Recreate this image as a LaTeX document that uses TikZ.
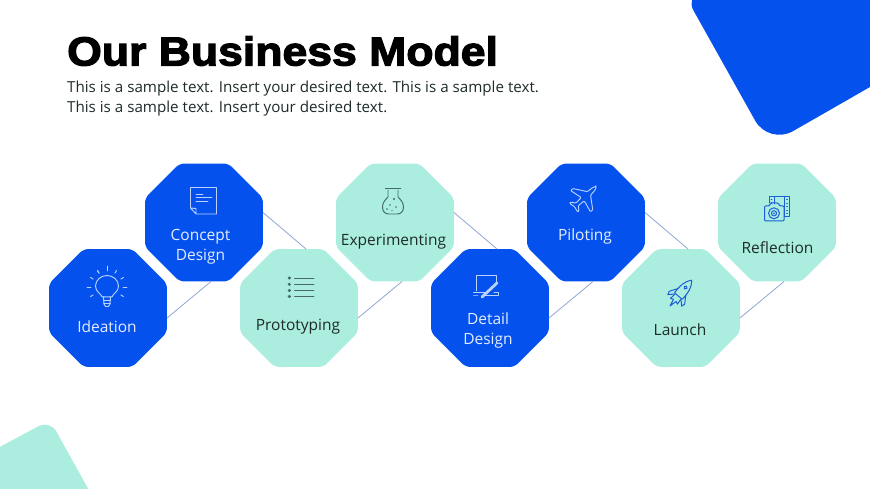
\documentclass[tikz,border=0pt]{standalone}
\usepackage{fontspec}
\setmainfont{Open Sans}
\newfontfamily\titlefont[BoldFeatures={FakeBold=3,FakeStretch=1.1}]{Liberation Sans}
\usetikzlibrary{shapes.geometric}
\definecolor{brandblue}{HTML}{0451EE}
\definecolor{brandteal}{HTML}{ABEDDF}
\definecolor{linkcol}{HTML}{8FA6D6}
\definecolor{darktxt}{HTML}{1E2B2B}
\definecolor{lighttxt}{HTML}{E4EDFF}
\definecolor{iconlight}{HTML}{B9D2FF}
\definecolor{icongrey}{HTML}{456A68}
\definecolor{iconblue}{HTML}{1C5FD6}
\tikzset{
  octa/.style={regular polygon,regular polygon sides=8,minimum size=127.7pt,inner sep=0pt,outer sep=0pt,rounded corners=5pt,draw=none},
  octablue/.style={octa,fill=brandblue},
  octateal/.style={octa,fill=brandteal},
  lab/.style={font=\fontsize{15.5}{20}\selectfont,align=center,inner sep=0pt},
  labblue/.style={lab,text=lighttxt},
  labteal/.style={lab,text=darktxt},
  link/.style={draw=linkcol,line width=0.8pt},
  iconl/.style={draw=iconlight,line width=0.95pt,line cap=round,line join=round},
  icong/.style={draw=icongrey,line width=0.95pt,line cap=round,line join=round},
  iconb/.style={draw=iconblue,line width=1pt,line cap=round,line join=round},
}
\begin{document}
\begin{tikzpicture}[x=1pt,y=-1pt]
\useasboundingbox (0,0) rectangle (870,489);
\begin{scope}
\clip (0,0) rectangle (870,489);
\fill[brandblue] (1000,12.5) [rounded corners=28pt] -- (768.8,145) [rounded corners=14pt] -- (686.5,-2) [sharp corners] -- (790,-62) -- (1000,-62) -- cycle;
\fill[brandteal,rounded corners=13pt] (-30,463) -- (50,420) -- (100,510) -- (-30,510) -- cycle;
\end{scope}

\node[anchor=west,inner sep=0pt,font=\titlefont\bfseries\fontsize{40.5}{44}\selectfont] (title) at (67,51) {Our Business Model};
\node[anchor=north west,inner sep=0pt,align=left,text=darktxt,font=\fontsize{15.17}{20.2}\selectfont] (sub) at (67,81) {This is a sample text. Insert your desired text. This is a sample text.\\This is a sample text. Insert your desired text.};

\node[octablue] (ideation) at (108,308) {};
\node[octablue] (concept) at (204,222.5) {};
\node[octateal] (proto) at (299,308) {};
\node[octateal] (exper) at (395,222.5) {};
\node[octablue] (detail) at (490,308) {};
\node[octablue] (pilot) at (586,222.5) {};
\node[octateal] (launch) at (681,308) {};
\node[octateal] (reflect) at (777,222.5) {};

\draw[link] ([yshift=-10pt]ideation.east) -- ([xshift=7pt]concept.south);
\draw[link] ([yshift=10pt]concept.east) -- ([xshift=7pt]proto.north);
\draw[link] ([yshift=-10pt]proto.east) -- ([xshift=7pt]exper.south);
\draw[link] ([yshift=10pt]exper.east) -- ([xshift=7pt]detail.north);
\draw[link] ([yshift=-10pt]detail.east) -- ([xshift=7pt]pilot.south);
\draw[link] ([yshift=10pt]pilot.east) -- ([xshift=7pt]launch.north);
\draw[link] ([yshift=-10pt]launch.east) -- ([xshift=7pt]reflect.south);

\node[labblue] (t1) at (107,327) {Ideation};
\node[labblue] (t2) at (200.5,246.5) {Concept\\Design};
\node[labteal] (t3) at (298,326.5) {Prototyping};
\node[labteal] (t4) at (393.5,241.5) {Experimenting};
\node[labblue] (t5) at (488,330.5) {Detail\\Design};
\node[labblue] (t6) at (585,236) {Piloting};
\node[labteal] (t7) at (680,329.5) {Launch};
\node[labteal] (t8) at (777.5,247.5) {Reflection};

% bulb
\begin{scope}[shift={(107,287)}]
\draw[iconl] (-5,9.8) .. controls (-6,6.5) and (-11.5,5) .. (-11.5,-1) .. controls (-11.5,-7) and (-6,-11.5) .. (0,-11.5) .. controls (6,-11.5) and (11.5,-7) .. (11.5,-1) .. controls (11.5,5) and (6,6.5) .. (5,9.8) -- cycle;
\draw[iconl] (-3.5,9.8) -- (-3,17) -- (-1.5,19.5) -- (1.5,19.5) -- (3,17) -- (3.5,9.8);
\draw[iconl] (-3.4,13) -- (3.4,13) (-3.2,16) -- (3.2,16);
\foreach \a in {-90,-60,-30,0,30,150,180,210,240,-120}
  \draw[iconl] (\a:16) -- (\a:\ifnum\a=-90 21\else\ifnum\a=0 20\else\ifnum\a=180 20\else 19\fi\fi\fi);
\end{scope}

% note
\draw[iconl] (196,214) -- (216.5,214) -- (216.5,187.5) -- (190.5,187.5) -- (190.5,208) -- (196,214) -- (196,208.5) -- (190.5,208);
\draw[iconl] (196,194) -- (203,194) (196,197.7) -- (212,197.7) (196,201.3) -- (208,201.3);

% list
\foreach \y in {278,284.3,290.5,296.5} {
  \fill[icongrey] (289.3,\y) circle (1.7);
  \draw[icong] (294.5,\y) -- (314,\y);
}

% flask
\draw[icong,line width=1.5pt] (385.5,188.7) -- (400.5,188.7);
\draw[icong] (388,190) -- (388,197) .. controls (385,200) and (382.5,203) .. (382.5,207) .. controls (382.5,211.5) and (385,214) .. (389,214) -- (397,214) .. controls (401,214) and (403.5,211.5) .. (403.5,207) .. controls (403.5,203) and (401,200) .. (398,197) -- (398,190);
\fill[icongrey] (394,199) circle (1.2) (390,205) circle (0.8) (396,207) circle (0.8) (387,209) circle (0.8) (392,210.5) circle (0.7);

% laptop and pen
\draw[iconl] (476.5,291) -- (476.5,275) -- (496,275) -- (496,284);
\draw[iconl] (473.5,292.5) -- (487,292.5) (494,292.5) -- (498,292.5) -- (498,295) -- (482,295) (478,295) -- (473.5,295) -- cycle;
\draw[draw=iconlight,line width=2.8pt,line cap=round] (482,297) -- (497,283);

% plane
\begin{scope}[shift={(584,198)},rotate=-47,scale=0.86]
\draw[iconl,rounded corners=1pt] (0,-19) .. controls (2,-17) and (2.6,-13) .. (2.6,-8) -- (17,2) -- (17,5.5) -- (2.6,2) -- (2,11) -- (7,14.5) -- (7,16.5) -- (0,15) -- (-7,16.5) -- (-7,14.5) -- (-2,11) -- (-2.6,2) -- (-17,5.5) -- (-17,2) -- (-2.6,-8) .. controls (-2.6,-13) and (-2,-17) .. (0,-19) -- cycle;
\end{scope}

% rocket
\begin{scope}[shift={(680.5,293.5)},rotate=-40,scale=1.12]
\draw[iconb] (0,-15.5) .. controls (4.5,-10) and (5,-5) .. (4.5,3) -- (-4.5,3) .. controls (-5,-5) and (-4.5,-10) .. (0,-15.5) -- cycle;
\draw[iconb] (0,-7) circle (1.5);
\draw[iconb] (-4.5,-2) -- (-9,5) -- (-8,8) -- (-4,4);
\draw[iconb] (4.5,-2) -- (9,5) -- (8,8) -- (4,4);
\draw[iconb] (-3.5,4) -- (-4,9) -- (-1.5,8) -- (0,14.5) -- (1.5,8) -- (4,9) -- (3.5,4);
\end{scope}

% camera with film
\draw[iconb] (769,203) -- (769,196.5) -- (789,196.5) -- (789,216.5) -- (784.5,216.5);
\draw[iconb] (774,196.5) -- (774,204) (784,196.5) -- (784,216.5);
\foreach \y in {199.5,203,206.5,210,213.5} \draw[iconb,line width=0.8pt] (786.5,\y) -- (787.5,\y);
\foreach \y in {199.5,202.5} \draw[iconb,line width=0.8pt] (771,\y) -- (772,\y);
\draw[iconb,rounded corners=1pt] (764.5,221) -- (764.5,206) -- (769,206) -- (771,203) -- (778,203) -- (780,206) -- (784,206) -- (784,221) -- cycle;
\draw[iconb] (774,213.3) circle (5.5) (774,213.3) circle (2.6);
\fill[iconblue] (774,213.3) circle (1);
\end{tikzpicture}
\end{document}
